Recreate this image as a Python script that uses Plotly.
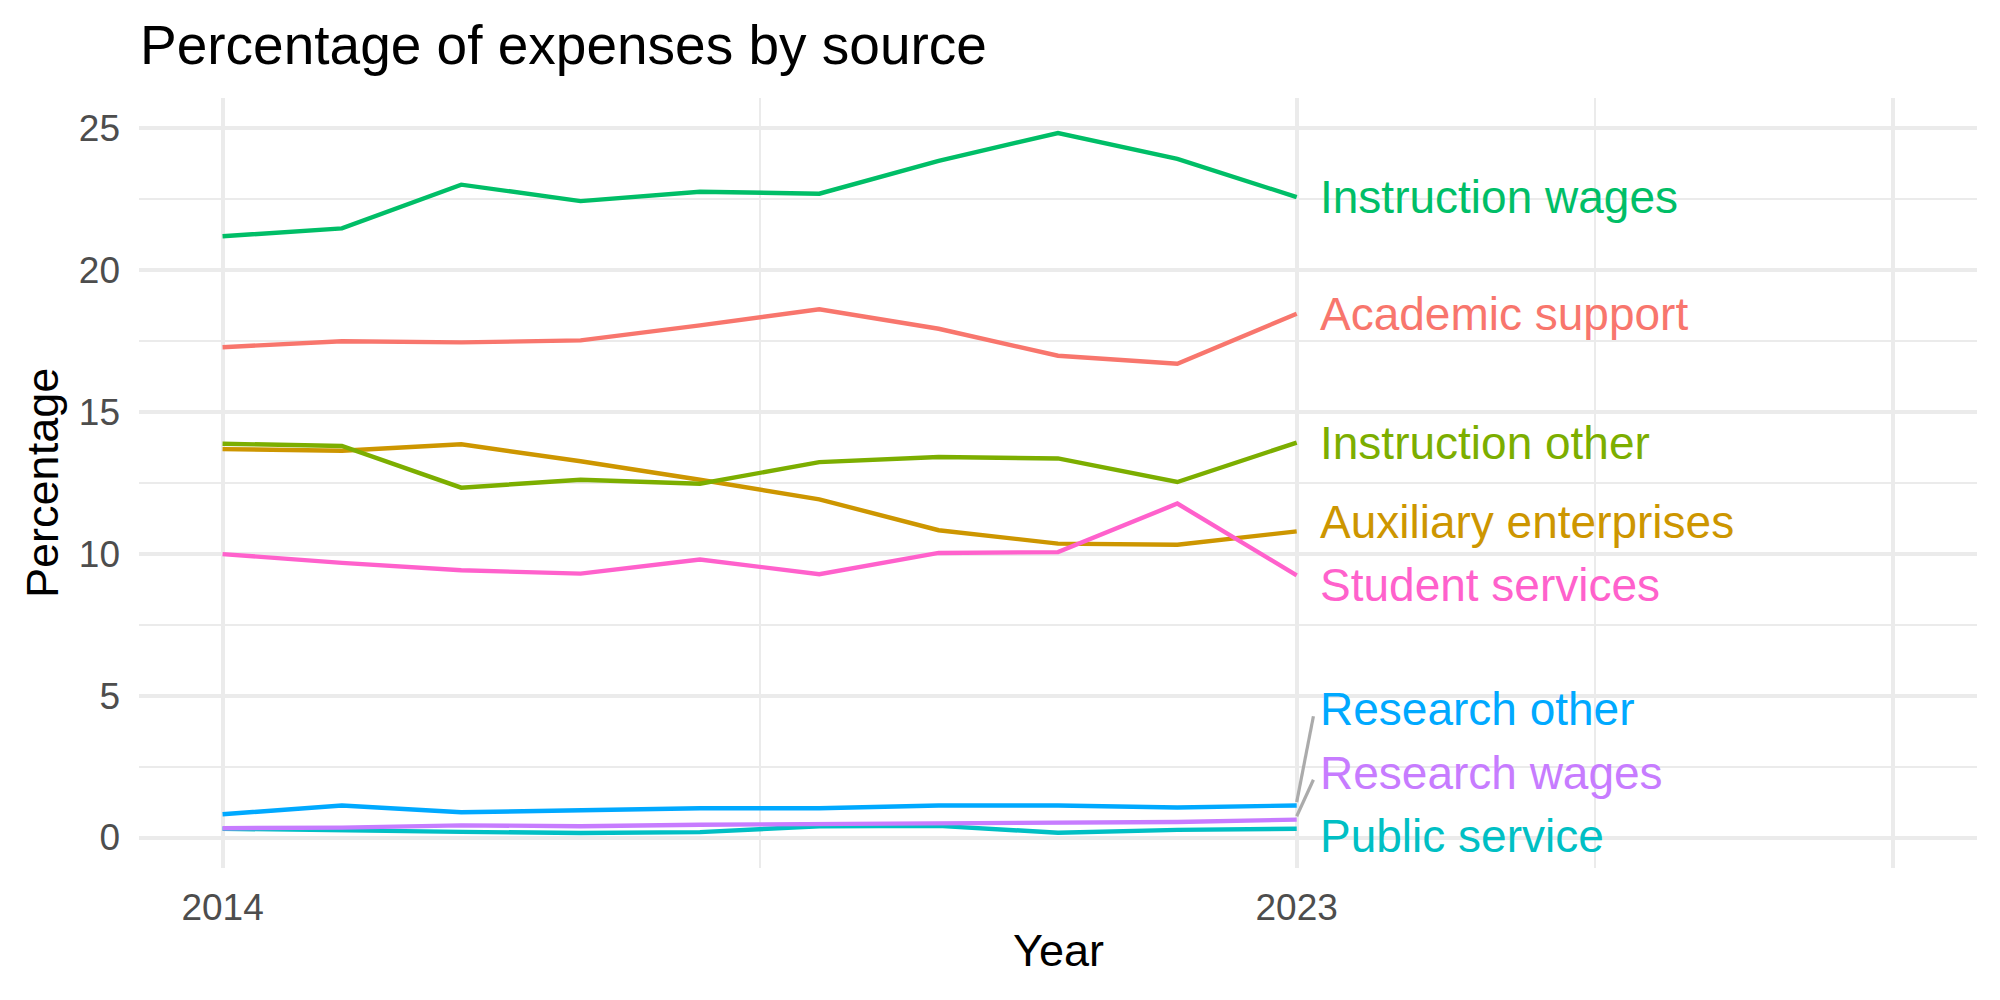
import plotly.graph_objects as go

# ---------------- data ----------------
years = list(range(2014, 2024))
series_names = ["Academic support", "Auxiliary enterprises", "Instruction other",
                "Instruction wages", "Public service", "Research other",
                "Research wages", "Student services"]
academic_support      = [17.28, 17.49, 17.45, 17.52, 18.05, 18.62, 17.93, 16.98, 16.70, 18.46]
auxiliary_enterprises = [13.69, 13.63, 13.86, 13.26, 12.61, 11.92, 10.83, 10.36, 10.32, 10.79]
instruction_other     = [13.88, 13.80, 12.33, 12.61, 12.47, 13.23, 13.41, 13.36, 12.53, 13.92]
instruction_wages     = [21.19, 21.47, 23.01, 22.43, 22.76, 22.69, 23.85, 24.83, 23.92, 22.57]
public_service        = [0.31, 0.24, 0.20, 0.16, 0.19, 0.40, 0.41, 0.17, 0.27, 0.31]
research_other        = [0.82, 1.13, 0.89, 0.97, 1.03, 1.03, 1.13, 1.13, 1.06, 1.13]
research_wages        = [0.33, 0.35, 0.43, 0.40, 0.45, 0.47, 0.48, 0.50, 0.55, 0.63]
student_services      = [9.99, 9.68, 9.42, 9.30, 9.80, 9.28, 10.03, 10.06, 11.77, 9.24]

x_breaks = [2014, 2023, 2028]
x_break_labels = ["2014", "2023", ""]
x_minor = [2018.5, 2025.5]
y_breaks = [0, 5, 10, 15, 20, 25]
y_minor = [2.5, 7.5, 12.5, 17.5, 22.5]

series_values = [academic_support, auxiliary_enterprises, instruction_other,
                 instruction_wages, public_service, research_other,
                 research_wages, student_services]
colors = ["#F8766D", "#CD9600", "#7CAE00", "#00BE67",
          "#00BFC4", "#00A9FF", "#C77CFF", "#FF61CC"]

FONT = "Liberation Sans, Arial, sans-serif"

# ---------------- scales (ggplot-like 5% expansion) ----------------
x_lo, x_hi = min(years), max(x_breaks)
xpad = 0.05 * (x_hi - x_lo)
x_range = [x_lo - xpad, x_hi + xpad]
all_y = [v for s in series_values for v in s]
y_lo, y_hi = min(all_y), max(all_y)
ypad = 0.05 * (y_hi - y_lo)
y_range = [y_lo - ypad, y_hi + ypad]

fig = go.Figure()
for name, vals, col in zip(series_names, series_values, colors):
    fig.add_trace(go.Scatter(x=years, y=vals, mode="lines", name=name,
                             line=dict(color=col, width=4.4), showlegend=False))

# ---------------- simple repel of end labels ----------------
gap = 2.24
lb = y_range[0] + gap / 2
ub = y_range[1] - gap / 2
ends = [(vals[-1], i) for i, vals in enumerate(series_values)]
order = sorted(range(len(ends)), key=lambda k: ends[k][0])
pos = [ends[k][0] for k in order]
for _ in range(500):
    for j in range(len(pos) - 1):
        d = pos[j + 1] - pos[j]
        if d < gap:
            push = (gap - d) / 2
            pos[j] -= push
            pos[j + 1] += push
    pos = [min(max(p, lb), ub) for p in pos]
label_y = [0.0] * len(ends)
for p, k in zip(pos, order):
    label_y[k] = p

label_x = years[-1] + 0.18
annotations = []
shapes = []
for i, (name, vals, col) in enumerate(zip(series_names, series_values, colors)):
    annotations.append(dict(x=label_x, y=label_y[i], xref="x", yref="y", text=name,
                            showarrow=False, xanchor="left", yanchor="middle",
                            font=dict(family=FONT, size=46, color=col)))
    if abs(label_y[i] - vals[-1]) > 1.0:
        shapes.append(dict(type="line", xref="x", yref="y",
                           x0=years[-1], y0=vals[-1] + 0.12,
                           x1=label_x - 0.04, y1=label_y[i] - 0.25,
                           line=dict(color="#ABABAB", width=3.2)))

annotations.append(dict(x=0.5, y=-0.107, xref="paper", yref="paper", text="Year",
                        showarrow=False, xanchor="center", yanchor="middle",
                        font=dict(family=FONT, size=45, color="black")))
annotations.append(dict(x=-0.0528, y=0.5, xref="paper", yref="paper", text="Percentage",
                        showarrow=False, xanchor="center", yanchor="middle", textangle=-90,
                        font=dict(family=FONT, size=45, color="black")))

fig.update_layout(
    width=2000, height=1000,
    margin=dict(l=139, r=23, t=98, b=132),
    paper_bgcolor="white", plot_bgcolor="white",
    title=dict(text="Percentage of expenses by source", x=0.07, xanchor="left",
               xref="container", y=0.955, yanchor="middle", yref="container",
               font=dict(family=FONT, size=55, color="black")),
    annotations=annotations, shapes=shapes,
    showlegend=False,
)
fig.update_xaxes(range=x_range, tickvals=x_breaks, ticktext=x_break_labels,
                 showgrid=True, gridcolor="#EBEBEB", gridwidth=4.4,
                 minor=dict(tickvals=x_minor, showgrid=True, gridcolor="#EBEBEB", gridwidth=2.2),
                 zeroline=False, showline=False, ticks="",
                 ticklabelstandoff=14,
                 tickfont=dict(family=FONT, size=37, color="#4D4D4D"))
fig.update_yaxes(range=y_range, tickvals=y_breaks,
                 showgrid=True, gridcolor="#EBEBEB", gridwidth=4.4,
                 minor=dict(tickvals=y_minor, showgrid=True, gridcolor="#EBEBEB", gridwidth=2.2),
                 zeroline=False, showline=False, ticks="",
                 ticklabelstandoff=18,
                 tickfont=dict(family=FONT, size=37, color="#4D4D4D"))

fig.write_html("out.html")
